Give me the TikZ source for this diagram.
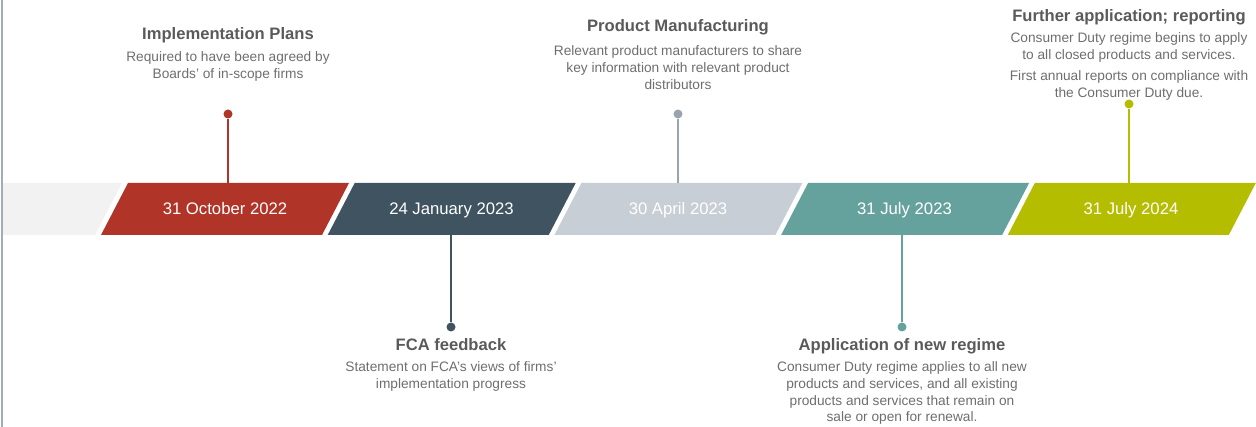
\documentclass[tikz,border=0pt]{standalone}
\usepackage{fontspec}
\setmainfont{Liberation Sans}
\definecolor{cRed}{HTML}{B03427}
\definecolor{cSlate}{HTML}{3F5361}
\definecolor{cMist}{HTML}{C8CED5}
\definecolor{cMistDark}{HTML}{9AA4AF}
\definecolor{cTeal}{HTML}{66A29D}
\definecolor{cOlive}{HTML}{B4BD00}
\definecolor{cBand}{HTML}{F2F2F2}
\definecolor{cRule}{HTML}{A3ABB8}
\definecolor{cTitle}{HTML}{5A5A5A}
\definecolor{cBody}{HTML}{6E6E6E}
\begin{document}
\begin{tikzpicture}[x=1pt,y=-1pt,
  datelabel/.style={text=white,font=\fontsize{16.7}{19}\selectfont,inner sep=0,anchor=base},
  headline/.style={text=cTitle,font=\bfseries\fontsize{16.6}{19}\selectfont,inner sep=0,anchor=base},
  % multi-line texts are placed by the baseline of their last line
  blurb/.style={text=cBody,font=\fontsize{13.7}{16.7}\selectfont,inner sep=0,anchor=base,align=center},
  stem/.style={line width=2pt},
  pin/.style={circle,inner sep=0,minimum size=9pt,fill=#1}]
\useasboundingbox (0,0) rectangle (1256,427);

% left rule and lead-in band
\draw[cRule,line width=2pt] (2,0) -- (2,427);
\fill[cBand] (3,183) -- (122,183) -- (95,235) -- (3,235) -- cycle;

% slanted date segments
\foreach \tx/\col in {128/cRed,354.7/cSlate,581.4/cMist,808.1/cTeal,1034.8/cOlive}{
  \fill[\col] (\tx,183) -- (\tx+221,183) -- (\tx+194,235) -- (\tx-27,235) -- cycle;
}

% date labels
\node[datelabel] (d1) at (225,215) {31 October 2022};
\node[datelabel] (d2) at (451.5,215) {24 January 2023};
\node[datelabel] (d3) at (678,215) {30 April 2023};
\node[datelabel] (d4) at (904.5,215) {31 July 2023};
\node[datelabel] (d5) at (1131,215) {31 July 2024};

% stem ends on the band edges
\coordinate (s1) at (228,183);
\coordinate (s2) at (451,235);
\coordinate (s3) at (678,183);
\coordinate (s4) at (902,235);
\coordinate (s5) at (1129,183);

% pins
\node[pin=cRed] (p1) at (228,114) {};
\node[pin=cSlate] (p2) at (451,327) {};
\node[pin=cMistDark] (p3) at (678,114) {};
\node[pin=cTeal] (p4) at (902,327) {};
\node[pin=cOlive] (p5) at (1129,104) {};

\draw[stem,cRed] (s1) -- (p1);
\draw[stem,cSlate] (s2) -- (p2);
\draw[stem,cMistDark] (s3) -- (p3);
\draw[stem,cTeal] (s4) -- (p4);
\draw[stem,cOlive] (s5) -- (p5);

% milestone texts
\node[headline] (h1) at (228,40) {Implementation Plans};
\node[blurb] (b1) at (228,78.4) {Required to have been agreed by\\Boards’ of in-scope firms};

\node[headline] (h3) at (678,32) {Product Manufacturing};
\node[blurb] (b3) at (678,89.1) {Relevant product manufacturers to share\\key information with relevant product\\distributors};

\node[headline] (h5) at (1129,22) {Further application; reporting};
\node[blurb] (b5) at (1129,59.4) {Consumer Duty regime begins to apply\\to all closed products and services.};
\node[blurb] (c5) at (1129,97.4) {First annual reports on compliance with\\the Consumer Duty due.};

\node[headline] (h2) at (451,351) {FCA feedback};
\node[blurb] (b2) at (451,388.4) {Statement on FCA’s views of firms’\\implementation progress};

\node[headline] (h4) at (902,351) {Application of new regime};
\node[blurb] (b4) at (902,421.8) {Consumer Duty regime applies to all new\\products and services, and all existing\\products and services that remain on\\sale or open for renewal.};
\end{tikzpicture}
\end{document}
